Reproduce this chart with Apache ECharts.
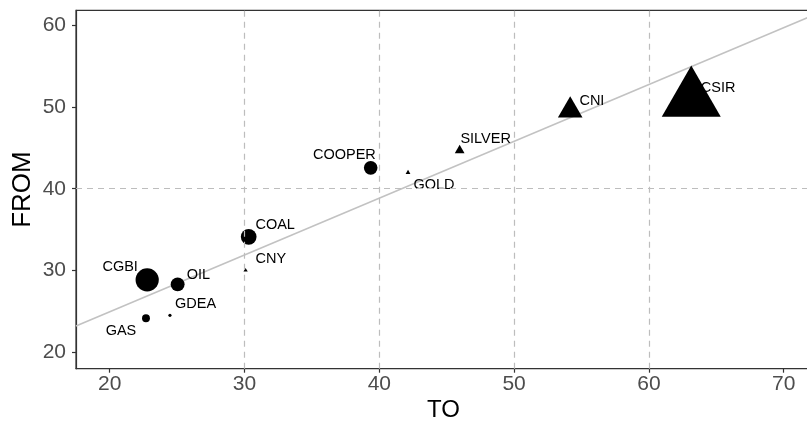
<!DOCTYPE html>
<html>
<head>
<meta charset="utf-8">
<title>Spillover TO vs FROM</title>
<script src="https://cdn.jsdelivr.net/npm/echarts@6/dist/echarts.min.js"></script>
<style>
  html, body { margin: 0; padding: 0; background: #ffffff; }
  #chart { width: 807px; height: 421px; }
</style>
</head>
<body>
<div id="chart"></div>
<script>
// Directional spillovers: contribution TO others vs. received FROM others
const markets    = ['CGBI', 'OIL', 'GAS', 'GDEA', 'CNY', 'COAL', 'COOPER', 'GOLD', 'SILVER', 'CNI', 'CSIR'];
const toValues   = [22.78, 25.04, 22.69, 24.47, 30.08, 30.31, 39.36, 42.13, 45.96, 54.16, 63.14];
const fromValues = [28.86, 28.31, 24.16, 24.52, 30.02, 34.12, 42.55, 41.97, 44.69, 49.58, 50.89];

const xTicks = [20, 30, 40, 50, 60, 70];
const yTicks = [20, 30, 40, 50, 60];
const refX = [30, 40, 50, 60];
const refY = [40];

// Axis extents
const X_MIN = 17.5, X_MAX = 72;
const Y_MIN = 18, Y_MAX = 61.8;

// Where each label sits relative to its point (pixels)
const labelShift = {
  CGBI: [-27, -12.5], OIL: [20.7, -9], GAS: [-25, 12.5], GDEA: [25.6, -11.7],
  CNY: [25.3, -11.7], COAL: [26.5, -11.8], COOPER: [-26.3, -12.5], GOLD: [25.9, 12.4],
  SILVER: [26, -11], CNI: [21.7, -9.5], CSIR: [26.8, -11.8]
};

// Ordinary least squares fit of FROM on TO
function olsFit(xs, ys) {
  const n = xs.length;
  const mx = xs.reduce((a, b) => a + b, 0) / n;
  const my = ys.reduce((a, b) => a + b, 0) / n;
  let sxy = 0, sxx = 0;
  for (let i = 0; i < n; i++) {
    sxy += (xs[i] - mx) * (ys[i] - my);
    sxx += (xs[i] - mx) * (xs[i] - mx);
  }
  const slope = sxy / sxx;
  return { slope, intercept: my - slope * mx };
}
const fit = olsFit(toValues, fromValues);

// Marker size grows with |NET| = |TO - FROM|; net transmitters are triangles
// whose centroid (not bounding-box centre) sits on the data point
function markerFor(i) {
  const net = toValues[i] - fromValues[i];
  const d = 3 + 3.33 * Math.abs(net);
  if (net < 0) {
    return { symbol: 'circle', symbolSize: d, symbolOffset: [0, 0] };
  }
  const w = 1.347 * d, h = 1.166 * d;
  return { symbol: 'triangle', symbolSize: [w, h], symbolOffset: [0, -h / 6] };
}

const pointData = markets.map((name, i) => Object.assign({
  name: name,
  value: [toValues[i], fromValues[i]]
}, markerFor(i)));

const labelData = markets.map((name, i) => ({
  name: name,
  value: [toValues[i], fromValues[i]],
  label: { offset: labelShift[name] }
}));

const refLines = refX.map(v => ({ xAxis: v })).concat(refY.map(v => ({ yAxis: v })));

const chart = echarts.init(document.getElementById('chart'), null, { renderer: 'canvas' });

const option = {
  animation: false,
  backgroundColor: '#ffffff',
  grid: {
    left: 76, right: -3.7, top: 10.4, bottom: 52.3,
    outerBoundsMode: 'none', containLabel: false,
    show: true, borderColor: '#333333', borderWidth: 1.2, backgroundColor: 'transparent'
  },
  xAxis: {
    type: 'value', min: X_MIN, max: X_MAX,
    name: 'TO', nameLocation: 'middle', nameGap: 30, nameMoveOverlap: false,
    nameTextStyle: { fontFamily: 'Liberation Sans', fontSize: 24, color: '#000000' },
    axisLine: { show: true, lineStyle: { color: '#333333', width: 1.2 } },
    axisTick: { show: true, length: 4, customValues: xTicks, lineStyle: { color: '#333333', width: 1.2 } },
    axisLabel: { customValues: xTicks, margin: 5, fontFamily: 'Liberation Sans', fontSize: 21, color: '#4d4d4d' },
    splitLine: { show: false }
  },
  yAxis: {
    type: 'value', min: Y_MIN, max: Y_MAX,
    name: 'FROM', nameLocation: 'middle', nameGap: 40, nameRotate: 90, nameMoveOverlap: false,
    nameTextStyle: { fontFamily: 'Liberation Sans', fontSize: 26, color: '#000000' },
    axisLine: { show: true, lineStyle: { color: '#333333', width: 1.2 } },
    axisTick: { show: true, length: 4, customValues: yTicks, lineStyle: { color: '#333333', width: 1.2 } },
    axisLabel: { customValues: yTicks, margin: 10, fontFamily: 'Liberation Sans', fontSize: 21, color: '#4d4d4d' },
    splitLine: { show: false }
  },
  series: [
    {
      // dashed reference lines
      type: 'scatter', data: [], silent: true, z: 1,
      markLine: {
        silent: true, symbol: ['none', 'none'], label: { show: false },
        lineStyle: { color: '#bdbdbd', type: [6, 5], width: 1.2, opacity: 1 },
        data: refLines
      }
    },
    {
      // fitted regression line across the full panel
      type: 'line', silent: true, z: 2, symbol: 'none',
      lineStyle: { color: '#c2c2c2', width: 1.6, opacity: 1 },
      data: [[X_MIN, fit.intercept + fit.slope * X_MIN], [X_MAX, fit.intercept + fit.slope * X_MAX]]
    },
    {
      type: 'scatter', z: 3,
      itemStyle: { color: '#000000', opacity: 1 },
      data: pointData
    },
    {
      type: 'scatter', z: 4, symbolSize: 0, silent: true,
      itemStyle: { opacity: 1 },
      label: {
        show: true, position: 'inside', formatter: '{b}',
        fontFamily: 'Liberation Sans', fontSize: 14.5, color: '#000000', opacity: 1
      },
      data: labelData
    }
  ]
};

chart.setOption(option);
</script>
</body>
</html>
